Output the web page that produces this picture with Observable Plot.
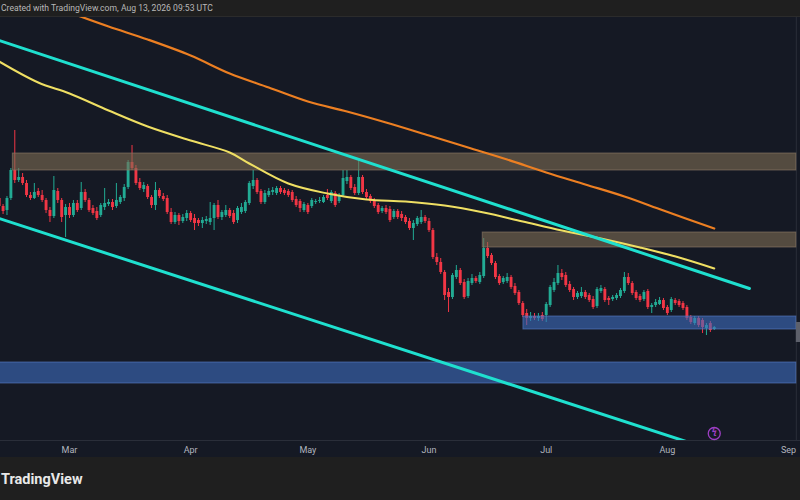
<!DOCTYPE html>
<html><head><meta charset="utf-8">
<script src="https://cdn.jsdelivr.net/npm/d3@7"></script>
<script src="https://cdn.jsdelivr.net/npm/@observablehq/plot@0.6"></script>
<style>
html,body{margin:0;padding:0;background:#1e1e1e;width:800px;height:500px;overflow:hidden;font-family:Roboto,"Noto Sans",sans-serif}
#top{position:absolute;left:0;top:0;width:800px;height:16px;background:#1f1f1f;border-bottom:1px solid #2b2b2b;color:#b8b8b8;font-size:8.6px;line-height:17px;white-space:nowrap;overflow:hidden}
#top span{position:relative;left:1px}
#chart{position:absolute;left:0;top:17px;width:800px;height:440px;background:#151924}
#bottom{position:absolute;left:0;top:457px;width:800px;height:43px;background:#1f1f1f;overflow:hidden}
#logo{position:absolute;left:1px;top:14px;color:#e8e8e8;font-weight:700;font-size:14.5px;white-space:nowrap}
</style></head><body>
<div id="top"><span>Created with TradingView.com, Aug 13, 2026 09:53 UTC</span></div>
<div id="chart"></div>
<div id="bottom"><div id="logo">TradingView</div></div>
<script>
// daily candles from this day onward
const firstDay = "2026-02-11";
const opens = [
242,234,230,242,270,260,263,257,245,242,249,245,240,230,224,249,240,225,
233,225,237,232,248,240,232,229,225,233,236,238,234,238,242,253,278,272,258,251,254,243,235,250,244,242,228,218,225,219,222,
227,222,220,217,219,218,222,235,223,225,230,227,220,228,229,237,254,260,249,238,245,248,247,252,250,249,248,241,239,230,
235,234,238,239,238,245,239,247,239,245,259,263,253,247,263,248,244,240,235,229,232,231,223,229,226,223,219,212,216,218,223,
219,210,183,178,168,148,143,163,170,158,144,157,162,158,164,192,185,177,164,158,159,163,154,148,137,127,122,124,122,125,
125,135,150,157,167,165,156,151,143,144,148,145,141,134,149,151,142,141,142,144,149,163,157,148,144,141,149,133,135,136,140,
133,130,140,139,137,133,123,117,122,120,112,117,111];
const highs = [
244,236,244,272,310,272,267,260,248,257,252,250,242,233,264,252,242,236,
237,240,240,258,251,242,235,233,237,252,241,241,257,245,256,280,295,275,262,258,256,245,258,252,247,245,232,228,227,226,230,
229,226,222,223,224,238,237,240,230,235,232,230,234,237,240,259,270,262,251,250,252,253,254,254,252,251,250,244,241,238,
237,242,241,243,245,251,250,249,247,270,270,265,256,282,265,251,246,242,237,234,235,234,231,231,229,225,222,220,224,230,225,
222,212,187,182,170,152,167,175,172,161,162,166,164,168,202,198,187,179,166,164,167,165,157,150,139,131,128,127,127,128,
138,155,162,175,171,168,159,153,149,153,150,147,144,153,155,153,144,145,147,152,168,167,159,150,146,150,151,137,141,143,142,
135,143,142,141,139,135,125,124,124,122,117,119,114];
const lows = [
232,226,225,240,257,258,255,243,240,241,243,238,227,218,222,237,218,203,
222,223,228,230,238,228,225,220,223,230,234,230,232,236,239,251,270,255,250,248,241,232,230,242,239,226,216,216,215,217,219,
218,210,214,212,216,215,210,221,220,223,222,216,217,226,227,235,251,246,236,236,243,245,245,246,245,243,238,233,228,228,
226,232,236,237,237,240,237,233,237,243,256,250,245,245,246,241,237,232,226,227,226,218,221,221,219,216,210,200,214,216,217,
208,181,175,166,140,128,141,161,155,141,142,155,157,156,162,182,175,161,155,156,157,151,145,135,123,115,119,120,119,119,
118,133,148,155,160,153,148,140,141,142,141,138,131,132,147,138,135,139,140,142,147,155,145,140,138,139,131,127,133,135,130,
125,128,135,133,130,120,116,115,113,107,105,108,110];
const closes = [
234,229,242,270,260,263,257,245,242,248,245,240,230,224,250,240,223,233,
225,237,230,248,240,230,227,222,235,237,238,233,240,243,253,278,272,257,252,255,243,235,250,244,241,228,218,225,219,223,227,
220,217,217,220,221,222,235,223,228,230,224,218,232,233,238,257,260,248,238,247,249,250,252,248,247,245,240,235,232,236,
228,240,239,240,243,242,248,235,245,262,263,252,247,263,248,243,239,234,228,232,228,220,229,223,222,218,212,217,222,223,219,
210,183,178,168,145,143,165,170,157,143,159,162,159,165,192,184,177,163,157,162,163,153,147,137,125,122,124,122,124,121,
136,153,158,167,163,155,150,143,147,148,143,140,133,151,152,140,140,143,145,150,163,157,147,142,140,148,133,135,138,140,132,
127,141,137,135,132,122,118,122,115,113,115,110,113];

// moving averages
const ma100 = [["2026-02-11",379],["2026-02-21",358],["2026-03-01",347],["2026-03-11",330],["2026-03-21",314],["2026-04-01",300],["2026-04-11",288],["2026-04-16",277],["2026-04-26",257],["2026-05-06",247],["2026-05-16",241],["2026-05-26",239],["2026-06-05",235],["2026-06-15",228],["2026-06-25",219],["2026-07-05",210],["2026-07-15",202],["2026-07-25",193],["2026-08-04",183],["2026-08-13",172]];
const ma200 = [["2026-03-01",428],["2026-03-11",414],["2026-03-21",401],["2026-04-01",385],["2026-04-11",367],["2026-04-21",353],["2026-05-01",339],["2026-05-11",329],["2026-05-21",318],["2026-06-01",305],["2026-06-11",293],["2026-06-21",281],["2026-07-01",268],["2026-07-11",256],["2026-07-21",244],["2026-07-31",230],["2026-08-13",212]];

// channel trendlines
const channelUpper = [["2026-02-11",400],["2026-08-22",152]];
const channelLower = [["2026-02-11",222],["2026-08-20",-19]];

// zones: start, end, low, high, kind
const zones = [
  ["2026-02-14T12:00",  "2026-09-03", 270, 287, "supply"],
  ["2026-06-14T18:00",  "2026-09-03", 193, 208, "supply"],
  ["2026-06-25T04:00",  "2026-09-03", 111, 124, "demand"],
  ["2026-02-01",        "2026-09-03", 57, 78,  "demand"]
];
const zoneColors = {supply: "#7e6c53", demand: "#3e6cc0"};
const zoneEdges = {supply: "#8f7d68", demand: "#5a80c8"};

const monthTicks = ["2026-03-01","2026-04-01","2026-05-01","2026-06-01","2026-07-01","2026-08-01","2026-09-01"];
const eventDay = "2026-08-13";
const priceAxisEdge = "2026-09-03";

const up = "#22ab94", down = "#f23645";
const d0 = new Date(firstDay + "T00:00Z");
const candles = opens.map((o, i) => ({
  date: d3.utcDay.offset(d0, i), open: o, high: highs[i], low: lows[i], close: closes[i],
  color: closes[i] >= o ? up : down
}));
const pt = ([d, v]) => ({date: new Date(d.length > 10 ? d + "Z" : d + "T00:00Z"), v});
const zoneData = zones.map(([a, b, lo, hi, k]) => ({x1: pt([a]).date, x2: pt([b]).date, lo, hi, fill: zoneColors[k], edge: zoneEdges[k]}));

const mar1 = new Date("2026-03-01T00:00Z"), sep1 = new Date("2026-09-01T00:00Z");
const pxPerMs = (788 - 69) / (sep1 - mar1);
const xDomain = [new Date(+mar1 - 69 / pxPerMs), new Date(+sep1 + 12 / pxPerMs)];
const last = candles[candles.length - 1];

const chart = Plot.plot({
  width: 800, height: 440,
  marginLeft: 0, marginRight: 0, marginTop: 0, marginBottom: 17,
  x: {type: "utc", domain: xDomain},
  y: {domain: [0, 423], axis: null},
  color: {type: "identity"},
  style: {background: "#151924", color: "#b2b5be", fontFamily: "Roboto, 'Noto Sans', sans-serif", fontSize: "9px"},
  marks: [
    Plot.ruleY([0], {stroke: "#2a2e39"}),
    Plot.ruleX([pt([priceAxisEdge]).date], {stroke: "#2a2e39"}),
    Plot.ruleX(candles, {x: "date", y1: "low", y2: "high", stroke: "color", strokeWidth: 1}),
    Plot.ruleX(candles, {x: "date", y1: "open", y2: "close", stroke: "color", strokeWidth: 2.9}),
    Plot.rect(zoneData, {x1: "x1", x2: "x2", y1: "lo", y2: "hi", fill: "fill", fillOpacity: 0.6, stroke: "edge", strokeOpacity: 0.6, strokeWidth: 1, clip: true}),
    Plot.line(ma200.map(pt), {x: "date", y: "v", stroke: "#ec7f22", strokeWidth: 2.2, curve: "catmull-rom", clip: true}),
    Plot.line(ma100.map(pt), {x: "date", y: "v", stroke: "#efdf63", strokeWidth: 2, curve: "catmull-rom", clip: true}),
    Plot.line(channelUpper.map(pt), {x: "date", y: "v", stroke: "#1fe0cf", strokeWidth: 3, clip: true}),
    Plot.line(channelLower.map(pt), {x: "date", y: "v", stroke: "#1fe0cf", strokeWidth: 3, clip: true}),
    Plot.rect([last], {x1: () => pt([priceAxisEdge]).date, x2: () => xDomain[1], y1: d => d.close - 15, y2: d => d.close + 5, fill: "#5d606b"}),
    Plot.dot([pt([eventDay]).date], {x: d => d, frameAnchor: "bottom", dy: -7, r: 6, stroke: "#9d3fc4", strokeWidth: 1.3, fill: "none"}),
    Plot.text([pt([eventDay]).date], {x: d => d, frameAnchor: "bottom", dy: -7, text: () => "ϟ", fill: "#9d3fc4", fontSize: 9, fontWeight: "bold"}),
    Plot.axisX(monthTicks.map(d => pt([d]).date), {tickSize: 0, tickPadding: 6, tickFormat: d3.utcFormat("%b"), fontSize: 9})
  ]
});
document.getElementById("chart").appendChild(chart);
</script>
</body></html>
